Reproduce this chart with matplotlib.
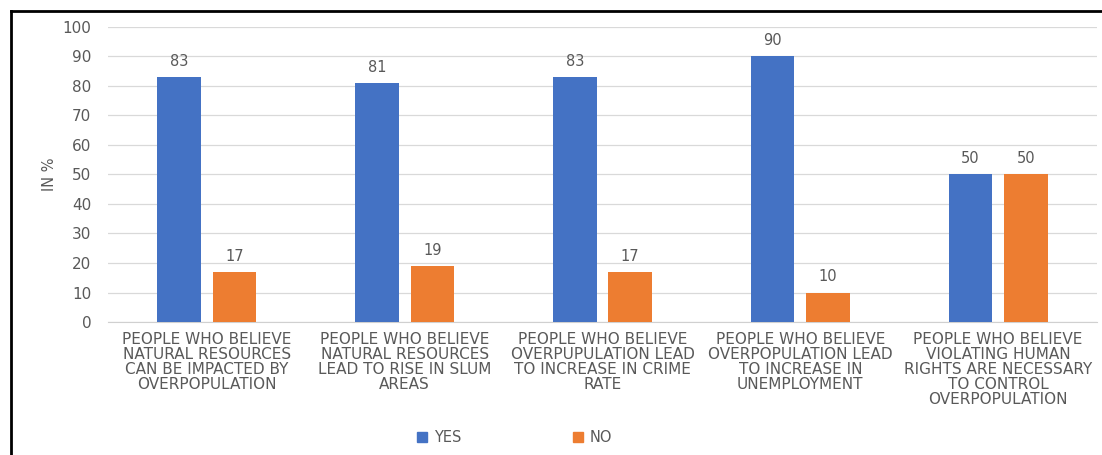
import numpy as np
import matplotlib
matplotlib.use('Agg')
import matplotlib.pyplot as plt
from matplotlib.lines import Line2D

plt.rcParams['font.family'] = ['DejaVu Sans']

categories = [
    'PEOPLE WHO BELIEVE\nNATURAL RESOURCES\nCAN BE IMPACTED BY\nOVERPOPULATION',
    'PEOPLE WHO BELIEVE\nNATURAL RESOURCES\nLEAD TO RISE IN SLUM\nAREAS',
    'PEOPLE WHO BELIEVE\nOVERPUPULATION LEAD\nTO INCREASE IN CRIME\nRATE',
    'PEOPLE WHO BELIEVE\nOVERPOPULATION LEAD\nTO INCREASE IN\nUNEMPLOYMENT',
    'PEOPLE WHO BELIEVE\nVIOLATING HUMAN\nRIGHTS ARE NECESSARY\nTO CONTROL\nOVERPOPULATION',
]
yes_values = [83, 81, 83, 90, 50]
no_values = [17, 19, 17, 10, 50]
series_names = ['YES', 'NO']
yticks = list(range(0, 101, 10))

blue = '#4472C4'
orange = '#ED7D31'
grey_text = '#595959'

fig = plt.figure(figsize=(11.02, 4.55), dpi=100)
ax = fig.add_axes([0.098, 0.2923, 0.8975, 0.6484])

x = np.arange(len(categories))
w = 0.22
off = 0.14
b1 = ax.bar(x - off, yes_values, w, color=blue, zorder=3)
b2 = ax.bar(x + off, no_values, w, color=orange, zorder=3)

for bars in (b1, b2):
    for b in bars:
        ax.annotate(f'{b.get_height():.0f}', (b.get_x() + b.get_width() / 2, b.get_height()),
                    xytext=(0, 6), textcoords='offset points', ha='center', va='bottom',
                    fontsize=10.5, color=grey_text)

ax.set_xlim(-0.5, len(categories) - 0.5)
ax.set_ylim(0, 100)
ax.set_yticks(yticks)
ax.tick_params(axis='y', length=0, labelsize=11, labelcolor=grey_text, pad=12)
ax.set_xticks(x)
ax.set_xticklabels(categories, fontsize=11, color=grey_text, linespacing=1.0)
ax.tick_params(axis='x', length=0, pad=7)
ax.yaxis.grid(True, color='#d9d9d9', linewidth=0.9, zorder=0)
for s in ['top', 'right', 'left']:
    ax.spines[s].set_visible(False)
ax.spines['bottom'].set_color('#d0d0d0')
ax.set_ylabel('IN %', fontsize=10.5, color=grey_text, labelpad=4)

handles = [Line2D([], [], marker='s', linestyle='', color=blue, markersize=7),
           Line2D([], [], marker='s', linestyle='', color=orange, markersize=7)]
leg = fig.legend(handles, series_names, loc='center', bbox_to_anchor=(0.466, 0.038), ncol=2,
                 frameon=False, fontsize=10.5, handletextpad=0.3, columnspacing=7.5,
                 handlelength=1.0)
for t in leg.get_texts():
    t.set_color(grey_text)

# outer frame (left and top only visible)
fig.add_artist(Line2D([0.0100, 0.0100], [0.0, 0.976], color='black', linewidth=2, transform=fig.transFigure))
fig.add_artist(Line2D([0.0100, 1.0], [0.976, 0.976], color='black', linewidth=2, transform=fig.transFigure))

fig.savefig('out.png', dpi=100)
